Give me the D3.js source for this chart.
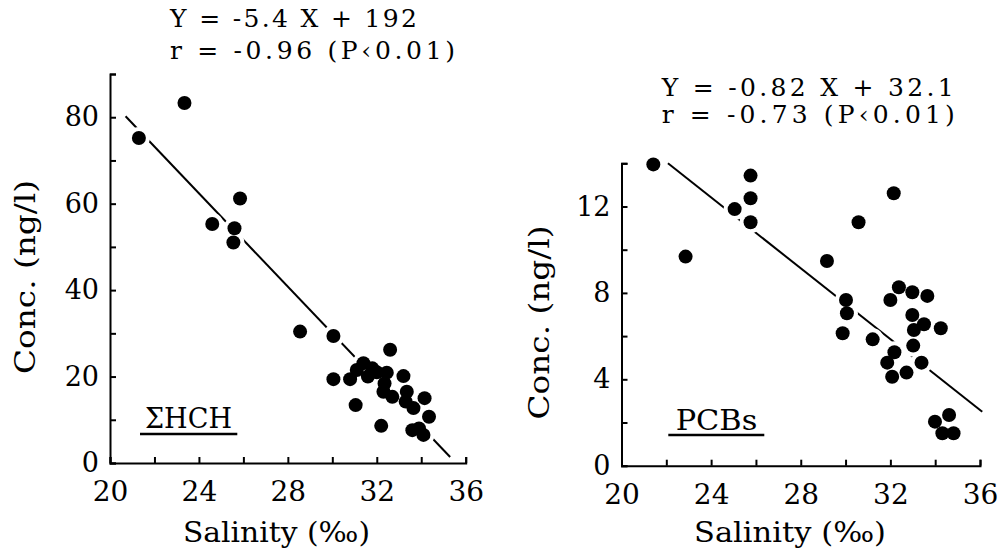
<!DOCTYPE html>
<html>
<head>
<meta charset="utf-8">
<script src="https://cdn.jsdelivr.net/npm/d3@7"></script>
<style>
  html, body { margin: 0; padding: 0; background: #fff; }
  svg { display: block; }
</style>
</head>
<body>
<svg id="chart" width="1005" height="549"></svg>
<script>
// ΣHCH concentration vs. salinity
const hchSalinity = [21.3, 23.35, 24.6, 25.6, 25.55, 25.85, 28.55, 30.05, 30.05, 30.8,
                     31.05, 31.1, 31.4, 31.6, 31.8, 32.0, 32.2, 32.35, 32.3, 32.45,
                     32.6, 32.7, 33.2, 33.35, 33.3, 33.65, 33.6, 34.15, 34.35, 34.1, 33.9];
const hchConc     = [75.2, 83.3, 55.3, 54.3, 51.0, 61.2, 30.4, 29.4, 19.4, 19.4,
                     13.4, 21.5, 23.1, 20.0, 21.9, 21.0, 8.6, 18.4, 16.5, 20.9,
                     26.2, 15.3, 20.1, 16.5, 14.2, 12.7, 7.6, 15.0, 10.7, 6.5, 8.0];

// PCBs concentration vs. salinity
const pcbSalinity = [21.42, 22.86, 25.05, 25.76, 25.76, 25.76, 29.17, 30.58, 32.15, 30.02,
                     30.06, 29.87, 31.21, 32.38, 32.0, 32.98, 33.65, 32.98, 33.5, 33.05,
                     34.25, 33.02, 32.18, 31.86, 33.39, 32.72, 32.08, 34.62, 33.99, 34.32, 34.82];
const pcbConc     = [13.95, 9.68, 11.88, 13.43, 12.38, 11.27, 9.48, 11.27, 12.61, 7.67,
                     7.06, 6.13, 5.85, 8.26, 7.67, 8.03, 7.86, 6.98, 6.55, 6.28,
                     6.36, 5.56, 5.25, 4.77, 4.77, 4.31, 4.12, 2.35, 2.04, 1.5, 1.5];

// axis ticks
const salinityTicks  = [20, 22, 24, 26, 28, 30, 32, 34, 36];
const salinityLabels = [20, 24, 28, 32, 36];
const hchTicks  = [0, 10, 20, 30, 40, 50, 60, 70, 80, 90];
const hchLabels = [0, 20, 40, 60, 80];
const pcbTicks  = [0, 2, 4, 6, 8, 10, 12, 14];
const pcbLabels = [0, 4, 8, 12];

// regression results
const fitSlopes     = [-5.4, -0.82];
const fitIntercepts = [192, 32.1];
const fitR          = [-0.96, -0.73];
const fitP          = ["0.01", "0.01"];
const fitSpans      = [[20.7, 35.3], [20.7, 36.1]];

const panelNames = ["ΣHCH", "PCBs"];

const FONT = "'DejaVu Serif'";
const svg = d3.select("#chart");

// layout of the two panels
const panels = [
  {
    xs: hchSalinity, ys: hchConc, ticks: hchTicks, labels: hchLabels,
    xRange: [110, 465.7], yDomain: [0, 90], yRange: [463, 74],
    eq: { x: 170, y1: 27, y2: 58.5, w1: 247, w2: 285 },
    yTitle: { x: 35, y: 277 },
    xTitle: { x: 183, y: 541.5, w: 187 },
    name: { x: 145, y: 428, w: 87, u0: 140, u1: 237.3, uy: 434 }
  },
  {
    xs: pcbSalinity, ys: pcbConc, ticks: pcbTicks, labels: pcbLabels,
    xRange: [621.5, 980], yDomain: [0, 14], yRange: [465.7, 163.3],
    eq: { x: 661.7, y1: 96, y2: 123, w1: 292, w2: 293 },
    yTitle: { x: 549, y: 322.5 },
    xTitle: { x: 694, y: 541.5, w: 192 },
    name: { x: 675.7, y: 430, w: 81.6, u0: 668.3, u1: 764.3, uy: 435 }
  }
];

function styledText(sel, size) {
  return sel.attr("font-family", null)
    .style("font-family", FONT).style("font-size", size + "px").attr("fill", "#000");
}

panels.forEach((p, i) => {
  const x = d3.scaleLinear().domain([20, 36]).range(p.xRange);
  const y = d3.scaleLinear().domain(p.yDomain).range(p.yRange);
  const g = svg.append("g");

  // x axis: inward ticks, every 4 units labelled
  const xAxis = d3.axisBottom(x)
    .tickValues(salinityTicks)
    .tickSizeInner(-6).tickSizeOuter(-6).tickPadding(18.5)
    .tickFormat(d => salinityLabels.includes(d) ? d : "");
  const gx = g.append("g").attr("transform", `translate(0,${p.yRange[0]})`).call(xAxis);

  // y axis: inward ticks
  const yAxis = d3.axisLeft(y)
    .tickValues(p.ticks)
    .tickSizeInner(-6).tickSizeOuter(-6).tickPadding(11)
    .tickFormat(d => p.labels.includes(d) ? d : "");
  const gy = g.append("g").attr("transform", `translate(${p.xRange[0]},0)`).call(yAxis);

  [gx, gy].forEach(a => {
    a.attr("font-family", null).attr("font-size", null);
    a.select(".domain").attr("stroke", "#000").attr("stroke-width", 2).attr("fill", "none");
    a.selectAll(".tick line").attr("stroke", "#000").attr("stroke-width", 2);
  });
  styledText(gx.selectAll(".tick text"), 28);
  styledText(gy.selectAll(".tick text"), 27);

  // regression line from the stated equation, kept inside the plot
  const m = fitSlopes[i], b = fitIntercepts[i];
  let xa = fitSpans[i][0];
  const xb = fitSpans[i][1];
  const yTop = p.yDomain[1];
  if (m * xa + b > yTop) xa = (yTop - b) / m;
  g.append("line")
    .attr("x1", x(xa)).attr("y1", y(m * xa + b))
    .attr("x2", x(xb)).attr("y2", y(m * xb + b))
    .attr("stroke", "#000").attr("stroke-width", 2);

  const pts = p.xs.map((v, k) => [v, p.ys[k]]);

  // white halos break the line around each dot
  g.append("g").selectAll("circle").data(pts).join("circle")
    .attr("cx", d => x(d[0])).attr("cy", d => y(d[1]))
    .attr("r", 11).attr("fill", "#fff");

  g.append("g").selectAll("circle").data(pts).join("circle")
    .attr("cx", d => x(d[0])).attr("cy", d => y(d[1]))
    .attr("r", 7).attr("fill", "#000");

  // equation and correlation
  const eqLine1 = `Y = ${m} X + ${b}`;
  const eqLine2 = `r = ${fitR[i].toFixed(2)} (P\u2039${fitP[i]})`;
  styledText(g.append("text"), 25)
    .attr("x", p.eq.x).attr("y", p.eq.y1)
    .attr("textLength", p.eq.w1).attr("lengthAdjust", "spacing")
    .text(eqLine1);
  styledText(g.append("text"), 25)
    .attr("x", p.eq.x).attr("y", p.eq.y2)
    .attr("textLength", p.eq.w2).attr("lengthAdjust", "spacing")
    .text(eqLine2);

  // axis titles
  styledText(g.append("text"), 28)
    .attr("transform", `translate(${p.yTitle.x},${p.yTitle.y}) rotate(-90)`)
    .attr("text-anchor", "middle")
    .attr("textLength", 194).attr("lengthAdjust", "spacingAndGlyphs")
    .text("Conc. (ng/l)");
  styledText(g.append("text"), 27)
    .attr("x", p.xTitle.x).attr("y", p.xTitle.y)
    .attr("textLength", p.xTitle.w).attr("lengthAdjust", "spacingAndGlyphs")
    .text("Salinity (\u2030)");

  // compound name, underlined
  styledText(g.append("text"), 28)
    .attr("x", p.name.x).attr("y", p.name.y)
    .attr("textLength", p.name.w).attr("lengthAdjust", "spacingAndGlyphs")
    .text(panelNames[i]);
  g.append("line")
    .attr("x1", p.name.u0).attr("x2", p.name.u1)
    .attr("y1", p.name.uy).attr("y2", p.name.uy)
    .attr("stroke", "#000").attr("stroke-width", 2.5);
});
</script>
</body>
</html>
